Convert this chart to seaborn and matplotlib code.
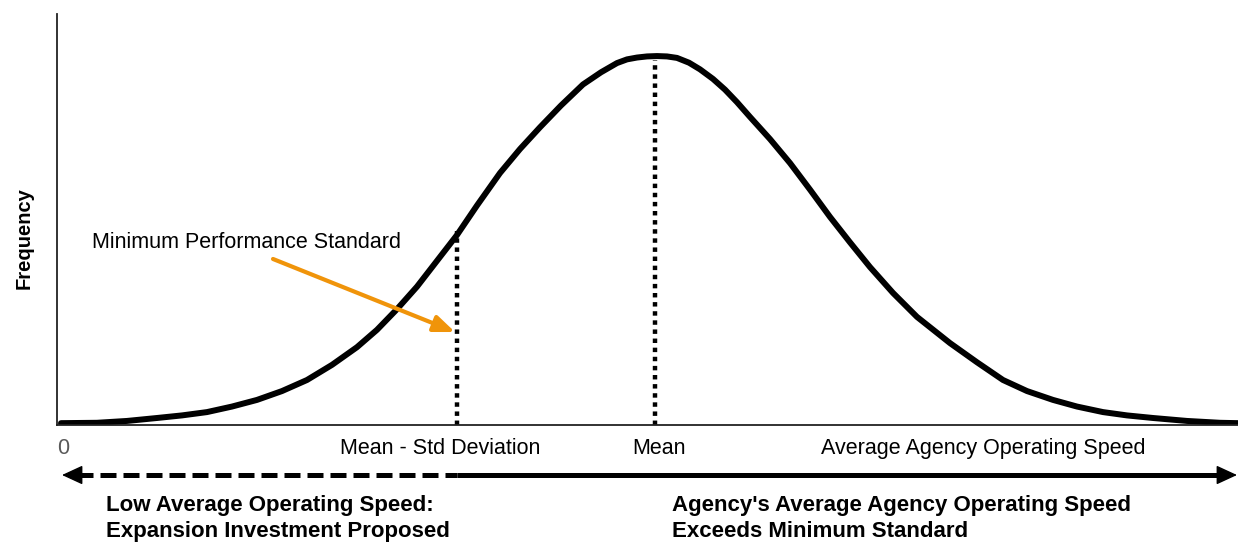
import numpy as np
import matplotlib.pyplot as plt
import matplotlib.transforms as mtransforms
import seaborn as sns

# bell curve: speed units vs frequency (% of peak)
speed = [0.2, 2, 3.5, 5, 6.25, 7.5, 8.75, 10, 11.25, 12.5, 13.75, 15, 16, 17, 18, 19, 20,
         21, 22.15, 23.15, 24.15, 25.2, 26.3, 27.2, 28, 28.5, 29, 29.5, 30, 30.5, 31, 31.6,
         32.15, 32.8, 33.4, 34, 34.65, 35.65, 36.65, 37.65, 38.65, 39.65, 40.65, 41.8, 43,
         44.65, 46, 47.3, 48.5, 49.8, 51, 52.3, 53.5, 54.8, 56.5, 58.15, 59.05]
frequency = [0.5, 0.6, 1.1, 1.9, 2.6, 3.5, 5, 6.8, 9.2, 12.2, 16.3, 21.1, 25.8, 31.4, 37.5, 44.5, 51.5,
             59.5, 68.3, 74.8, 80.7, 86.6, 92.3, 95.6, 98.1, 99.1, 99.6, 99.9, 100, 99.9, 99.5, 98.2,
             96.4, 93.8, 90.9, 87.5, 83.5, 77.5, 71, 63.8, 56.4, 49.5, 42.8, 35.8, 29.3,
             22.2, 17, 12.2, 9.2, 6.8, 5, 3.5, 2.6, 1.9, 1.1, 0.6, 0.5]
mean_speed = 29.9
std_dev = 9.9

axis_labels = ['0', 'Mean - Std Deviation', 'Mean', 'Average Agency Operating Speed']
standard_label = 'Minimum Performance Standard'
low_label = 'Low Average Operating Speed:\nExpansion Investment Proposed'
high_label = "Agency's Average Agency Operating Speed\nExceeds Minimum Standard"
y_label = 'Frequency'

sns.set_theme(style='white')
plt.rcParams['font.family'] = ['Liberation Sans', 'DejaVu Sans']
plt.rcParams['text.color'] = 'black'

fig = plt.figure(figsize=(12.38, 5.42), dpi=100)
ax = fig.add_axes([57 / 1238, 117 / 542, 1181 / 1238, 411 / 542])

sns.lineplot(x=speed, y=frequency, ax=ax, color='black', lw=4.3)

low_std = mean_speed - std_dev
ax.vlines(mean_speed, 0, np.interp(mean_speed, speed, frequency) - 1,
          colors='black', linestyles=(0, (1, 1.05)), lw=3.2)
ax.vlines(low_std, 0, np.interp(low_std, speed, frequency) + 1,
          colors='black', linestyles=(0, (1, 1.05)), lw=3.2)

ax.set_xlim(0, 59.05)
ax.set_ylim(0, 111.4)
ax.set_xticks([])
ax.set_yticks([])
for side in ['top', 'right']:
    ax.spines[side].set_visible(False)
for side in ['left', 'bottom']:
    ax.spines[side].set_color('#222222')
    ax.spines[side].set_linewidth(1.3)

# annotation with orange arrow
orange = '#F0940A'
ax.text(1.75, 49.6, standard_label, fontsize=15.5, ha='left', va='center')
ax.annotate('', xy=(19.9, 25.2), xytext=(10.8, 45),
            arrowprops=dict(arrowstyle='-|>,head_length=0.5,head_width=0.2', color=orange,
                            lw=3, mutation_scale=25, shrinkA=0, shrinkB=0))

trans = mtransforms.blended_transform_factory(ax.transData, ax.transAxes)

# labels under the axis
label_x = [0.0, 19.15, 30.1, 46.3]
label_ha = ['left', 'center', 'center', 'center']
label_color = ['#595959', 'black', 'black', 'black']
for x, lab, ha, c in zip(label_x, axis_labels, label_ha, label_color):
    ax.text(x, -0.058, lab, transform=trans, ha=ha, va='center', fontsize=15.5, color=c)

# direction arrows
ya = -0.1217
ax.plot([1.0, low_std], [ya, ya], transform=trans, clip_on=False, color='black',
        lw=3.6, linestyle=(0, (3.2, 1.4)), solid_capstyle='butt')
ax.plot([low_std, 58.2], [ya, ya], transform=trans, clip_on=False, color='black',
        lw=3.6, solid_capstyle='butt')
head = dict(arrowstyle='-|>,head_length=0.65,head_width=0.3', color='black', lw=1,
            mutation_scale=20, shrinkA=0, shrinkB=0)
ax.annotate('', xy=(0.25, ya), xytext=(1.5, ya), xycoords=trans, textcoords=trans,
            arrowprops=head, annotation_clip=False)
ax.annotate('', xy=(59.0, ya), xytext=(57.5, ya), xycoords=trans, textcoords=trans,
            arrowprops=head, annotation_clip=False)

ax.text(2.45, -0.228, low_label, transform=trans, ha='left', va='center',
        fontsize=16, fontweight='bold', linespacing=1.32)
ax.text(30.75, -0.228, high_label, transform=trans, ha='left', va='center',
        fontsize=16, fontweight='bold', linespacing=1.32)

fig.text(24 / 1238, 1 - 238 / 542, y_label, rotation=90, ha='center', va='center',
         fontsize=14.5, fontweight='bold')

fig.savefig('out.png', dpi=100)
